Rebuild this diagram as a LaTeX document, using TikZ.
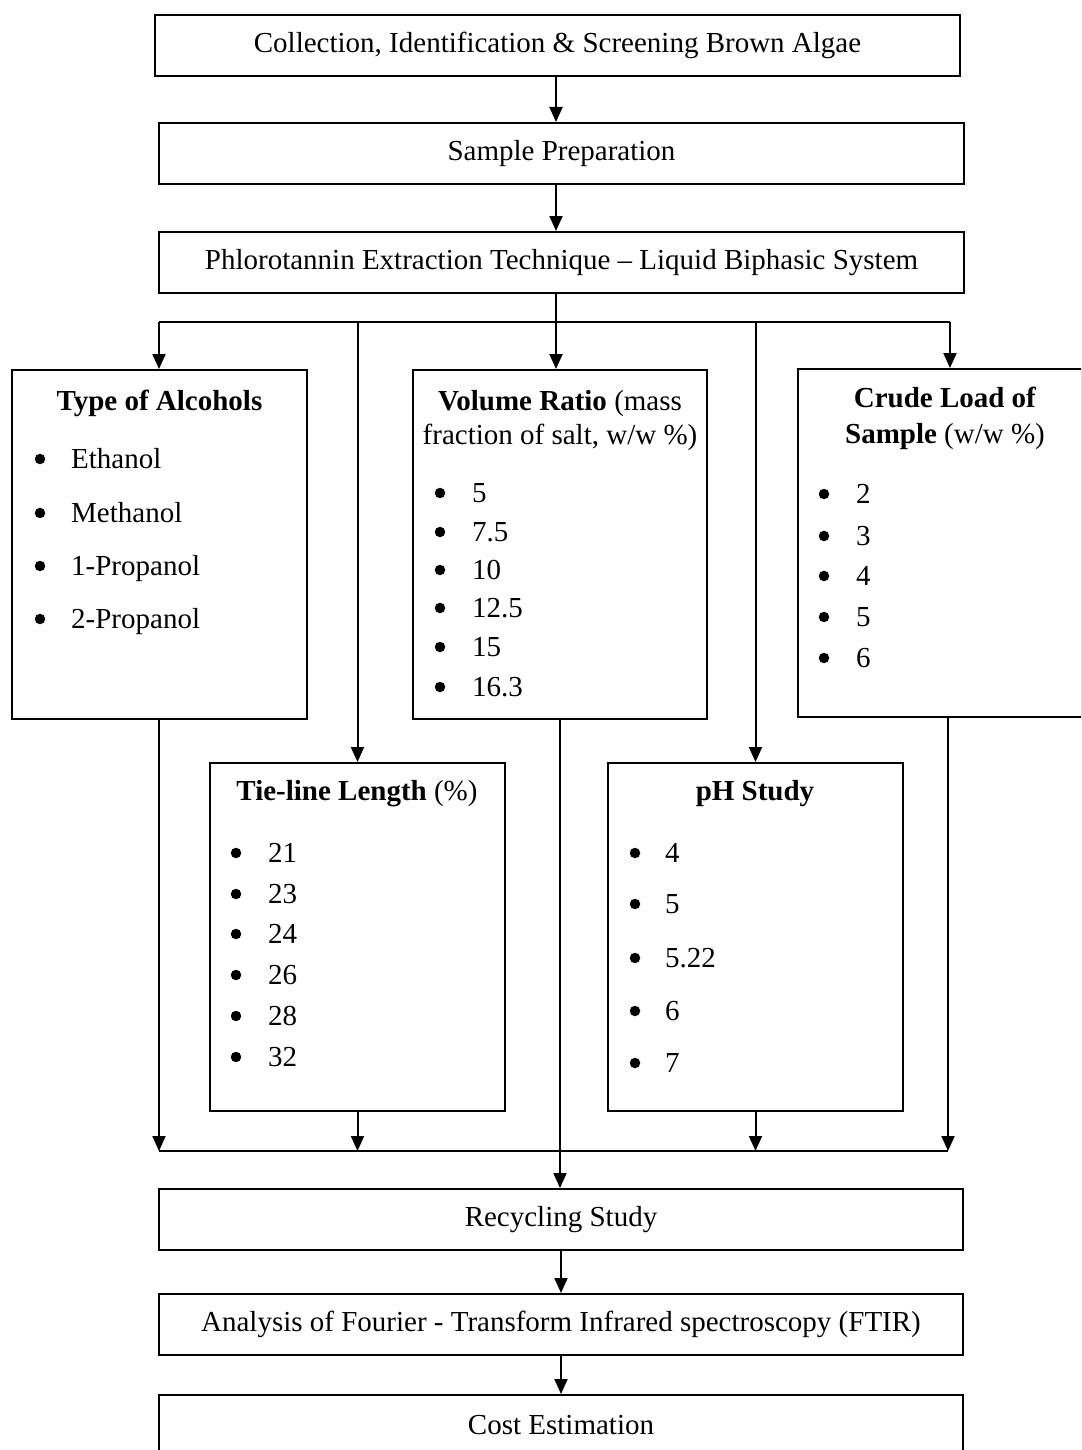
\documentclass[tikz,border=0pt]{standalone}
\usepackage{fontspec}
\setmainfont{Liberation Serif}
\usetikzlibrary{arrows.meta}
\begin{document}
\begin{tikzpicture}[x=1pt,y=1pt,
  font=\fontsize{29}{34}\selectfont,
  box/.style={draw, line width=2pt, rectangle, inner sep=0pt},
  wbox/.style={box, minimum width=805pt, minimum height=61pt},
  lbox/.style={box, minimum height=349pt},
  ln/.style={line width=2pt},
  arr/.style={line width=2pt, -{Triangle[length=15pt,width=13pt]}},
  bul/.style={circle, fill=black, inner sep=0pt, minimum size=10.5pt},
  itm/.style={anchor=base west, inner sep=0pt},
  hd/.style={anchor=base, inner sep=0pt}]
\useasboundingbox (0,0) rectangle (1081,-1450);
\clip (0,0) rectangle (1081,-1450);
\fill[white] (0,0) rectangle (1081,-1450);

% main chain
\node[wbox] (b1) at (557.5,-45.5) {Collection, Identification \& Screening Brown Algae};
\node[wbox] (b2) at (561.5,-153.5) {Sample Preparation};
\node[wbox] (b3) at (561.5,-262.5) {Phlorotannin Extraction Technique -- Liquid Biphasic System};

% parameter boxes
\node[lbox, minimum width=295pt] (alc) at (159.5,-544.5) {};
\node[lbox, minimum width=294pt] (vol) at (560,-544.5) {};
\node[lbox, minimum width=284pt, minimum height=348pt] (crude) at (940,-543) {};
\node[lbox, minimum width=295pt, minimum height=348pt] (tie) at (357.5,-937) {};
\node[lbox, minimum width=295pt, minimum height=348pt] (ph) at (755.5,-937) {};

% bottom chain
\node[wbox, minimum width=804pt] (rec) at (561,-1219.5) {Recycling Study};
\node[wbox, minimum width=804pt] (ftir) at (561,-1324.5) {Analysis of Fourier - Transform Infrared spectroscopy (FTIR)};
\node[wbox, minimum width=804pt] (cost) at (561,-1425.5) {Cost Estimation};

% headings
\node[hd] (alch) at (159.5,-410) {\textbf{Type of Alcohols}};
\node[hd] (volh1) at (560,-410) {\textbf{Volume Ratio} (mass};
\node[hd] (volh2) at (560,-444) {fraction of salt, w/w \%)};
\node[hd] (crh1) at (945,-407) {\textbf{Crude Load of}};
\node[hd] (crh2) at (945,-443) {\textbf{Sample} (w/w \%)};
\node[hd] (tieh) at (357,-800) {\textbf{Tie-line Length} (\%)};
\node[hd] (phh) at (755,-800) {\textbf{pH Study}};

% items
\foreach \t/\y [count=\i] in {Ethanol/468, Methanol/522, 1-Propanol/575, 2-Propanol/628}{
  \node[bul] (alcb\i) at (40,-\y+9) {};
  \node[itm] (alct\i) at (71,-\y) {\t};
}
\foreach \t/\y [count=\i] in {5/502, 7.5/541, 10/579, 12.5/617, 15/656, 16.3/696}{
  \node[bul] (volb\i) at (440,-\y+9) {};
  \node[itm] (volt\i) at (472,-\y) {\t};
}
\foreach \t/\y [count=\i] in {2/503, 3/545, 4/585, 5/626, 6/667}{
  \node[bul] (crb\i) at (824,-\y+9) {};
  \node[itm] (crt\i) at (856,-\y) {\t};
}
\foreach \t/\y [count=\i] in {21/862, 23/903, 24/943, 26/984, 28/1025, 32/1066}{
  \node[bul] (tieb\i) at (236,-\y+9) {};
  \node[itm] (tiet\i) at (268,-\y) {\t};
}
\foreach \t/\y [count=\i] in {4/862, 5/913, 5.22/967, 6/1020, 7/1072}{
  \node[bul] (phb\i) at (635,-\y+9) {};
  \node[itm] (pht\i) at (665,-\y) {\t};
}

% connectors top
\coordinate (mx) at (556,0);
\draw[arr] (b1.south -| mx) -- (b2.north -| mx);
\draw[arr] (b2.south -| mx) -- (b3.north -| mx);
\coordinate (jn) at (556,-322);
\coordinate (bl) at (159,-322);
\coordinate (br) at (950,-322);
\draw[ln] (b3.south -| jn) -- (jn);
\draw[ln] (bl) -- (br);
\draw[arr] (bl) -- (bl |- alc.north);
\draw[arr] (jn) -- (jn |- vol.north);
\draw[arr] (br) -- (br |- crude.north);
\draw[arr] (tie.north |- bl) -- (tie.north);
\draw[arr] (ph.north |- bl) -- (ph.north);

% connectors bottom
\coordinate (cl) at (159,-1151);
\coordinate (cr) at (948,-1151);
\draw[ln] (cl) -- (cr);
\draw[arr] (alc.south -| cl) -- (cl);
\draw[arr] (tie.south) -- (tie.south |- cl);
\draw[arr] (ph.south) -- (ph.south |- cl);
\draw[arr] (crude.south -| cr) -- (cr);
\draw[arr] (vol.south) -- (vol.south |- rec.north);
\draw[arr] (rec.south) -- (ftir.north);
\draw[arr] (ftir.south) -- (cost.north);
\end{tikzpicture}
\end{document}
